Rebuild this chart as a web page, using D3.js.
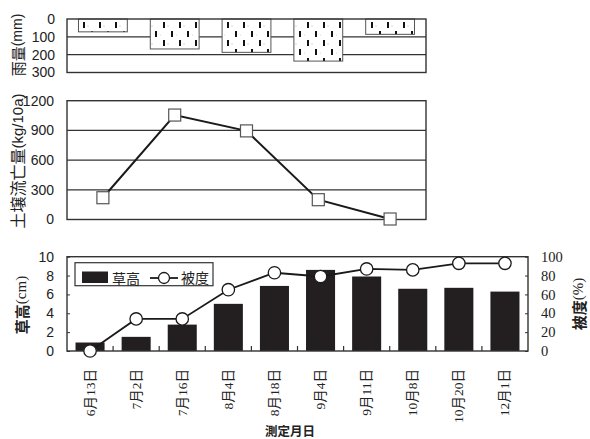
<!DOCTYPE html>
<html>
<head>
<meta charset="utf-8">
<script src="https://cdn.jsdelivr.net/npm/d3@7"></script>
<style>
  html, body { margin: 0; padding: 0; background: #fff; }
  svg { display: block; }
</style>
</head>
<body>
<svg id="chart" width="590" height="439"></svg>
<script>
// Rainfall and soil loss per measurement interval (5 intervals)
const intervals = ["1", "2", "3", "4", "5"];
const rainfall = [72, 168, 187, 236, 86];          // mm
const soilLoss = [220, 1055, 895, 200, 5];         // kg/10a

// Grass height and vegetation cover on each survey date
const dates = ["6月13日", "7月2日", "7月16日", "8月4日", "8月18日",
               "9月4日", "9月11日", "10月8日", "10月20日", "12月1日"];
const grassHeight = [0.9, 1.5, 2.8, 5.0, 6.9, 8.6, 7.9, 6.6, 6.7, 6.3];   // cm
const coverage = [0, 34, 34, 65, 83, 79, 87, 86, 93, 93];                // %

const rainTicks = [0, 100, 200, 300];
const lossTicks = [0, 300, 600, 900, 1200];
const heightTicks = [0, 2, 4, 6, 8, 10];
const coverTicks = [0, 20, 40, 60, 80, 100];

const svg = d3.select("#chart");
const ink = "#222";
const frame = "#333";
const sansNarrow = "'Liberation Sans Narrow', 'Liberation Sans', Arial, sans-serif";
const serif = "'Liberation Serif', 'DejaVu Serif', 'Noto Sans CJK JP', serif";
const cjk = "'Noto Sans CJK JP', sans-serif";
const plain = d3.format("d");

const left = 67, rightTop = 426, rightBottom = 528;

// Dash pattern used for the rainfall bars
const defs = svg.append("defs");
const pat = defs.append("pattern")
  .attr("id", "rainPattern")
  .attr("patternUnits", "userSpaceOnUse")
  .attr("width", 16).attr("height", 18)
  .attr("x", 0).attr("y", 21);
pat.append("rect").attr("width", 16).attr("height", 18).attr("fill", "#fff");
pat.append("rect").attr("x", 3).attr("y", 1).attr("width", 2).attr("height", 6).attr("fill", "#111");
pat.append("rect").attr("x", 11).attr("y", 10).attr("width", 2).attr("height", 6).attr("fill", "#111");
pat.append("circle").attr("cx", 8).attr("cy", 5).attr("r", 0.5).attr("fill", "#999");
pat.append("circle").attr("cx", 0).attr("cy", 14).attr("r", 0.5).attr("fill", "#999");

function yLabel(x, y, parts) {
  const t = svg.append("text")
    .attr("transform", `translate(${x},${y}) rotate(-90)`)
    .attr("text-anchor", "middle")
    .attr("dominant-baseline", "central")
    .attr("fill", ink);
  parts.forEach(p => {
    const s = t.append("tspan").attr("font-family", p.font).attr("font-size", p.size).text(p.text);
    if (p.weight) s.attr("font-weight", p.weight);
  });
}

// ---------- Panel 1: rainfall (inverted axis) ----------
const xTop = d3.scaleBand().domain(intervals).range([left, rightTop]).paddingInner(0.32).paddingOuter(0.16);
const yRain = d3.scaleLinear().domain([0, 300]).range([19, 72.5]);

const p1 = svg.append("g");
p1.selectAll("line.grid").data(rainTicks.slice(1, -1)).join("line")
  .attr("x1", left).attr("x2", rightTop)
  .attr("y1", d => yRain(d)).attr("y2", d => yRain(d))
  .attr("stroke", frame).attr("stroke-width", 1.2);
p1.selectAll("rect.bar").data(rainfall).join("rect")
  .attr("x", (d, i) => xTop(intervals[i]))
  .attr("y", yRain(0))
  .attr("width", xTop.bandwidth())
  .attr("height", d => yRain(d) - yRain(0))
  .attr("fill", "url(#rainPattern)")
  .attr("stroke", "#555").attr("stroke-width", 1);
p1.append("rect").attr("x", left).attr("y", yRain(0))
  .attr("width", rightTop - left).attr("height", yRain(300) - yRain(0))
  .attr("fill", "none").attr("stroke", frame).attr("stroke-width", 1.4);
p1.append("g").attr("transform", `translate(${left},0)`)
  .call(d3.axisLeft(yRain).tickValues(rainTicks).tickFormat(plain).tickSize(0).tickPadding(12))
  .call(g => g.select(".domain").remove())
  .call(g => g.selectAll("text").attr("font-family", sansNarrow).attr("font-size", 14).attr("fill", ink));
yLabel(17, 45, [{text: "雨量", font: cjk, size: 15}, {text: "(mm)", font: sansNarrow, size: 14}]);

// ---------- Panel 2: soil loss ----------
const yLoss = d3.scaleLinear().domain([0, 1200]).range([219.5, 100.7]);
const p2 = svg.append("g");
p2.selectAll("line.grid").data(lossTicks.slice(1, -1)).join("line")
  .attr("x1", left).attr("x2", rightTop)
  .attr("y1", d => yLoss(d)).attr("y2", d => yLoss(d))
  .attr("stroke", frame).attr("stroke-width", 1.2);
p2.append("rect").attr("x", left).attr("y", yLoss(1200))
  .attr("width", rightTop - left).attr("height", yLoss(0) - yLoss(1200))
  .attr("fill", "none").attr("stroke", frame).attr("stroke-width", 1.4);
const lossLine = d3.line()
  .x((d, i) => xTop(intervals[i]) + xTop.bandwidth() / 2)
  .y(d => yLoss(d));
p2.append("path").datum(soilLoss).attr("d", lossLine)
  .attr("fill", "none").attr("stroke", "#1a1a1a").attr("stroke-width", 2);
p2.selectAll("rect.mk").data(soilLoss).join("rect")
  .attr("x", (d, i) => xTop(intervals[i]) + xTop.bandwidth() / 2 - 6)
  .attr("y", d => yLoss(d) - 6)
  .attr("width", 12).attr("height", 12)
  .attr("fill", "#fff").attr("stroke", "#555").attr("stroke-width", 1.2);
p2.append("g").attr("transform", `translate(${left},0)`)
  .call(d3.axisLeft(yLoss).tickValues(lossTicks).tickFormat(plain).tickSize(0).tickPadding(13))
  .call(g => g.select(".domain").remove())
  .call(g => g.selectAll("text").attr("font-family", sansNarrow).attr("font-size", 14).attr("fill", ink));
yLabel(17, 161, [{text: "土壌流亡量", font: cjk, size: 16}, {text: "(kg/10a)", font: sansNarrow, size: 15}]);

// ---------- Panel 3: grass height bars + coverage line ----------
const xBot = d3.scaleBand().domain(dates).range([left, rightBottom]).paddingInner(0.37).paddingOuter(0.185);
const yH = d3.scaleLinear().domain([0, 10]).range([351, 256.7]);
const yC = d3.scaleLinear().domain([0, 100]).range([351, 256.7]);
const step = xBot.step();
const p3 = svg.append("g");

p3.selectAll("rect.bar").data(grassHeight).join("rect")
  .attr("x", (d, i) => xBot(dates[i]))
  .attr("y", d => yH(d))
  .attr("width", xBot.bandwidth())
  .attr("height", d => yH(0) - yH(d))
  .attr("fill", "#231f20");

// tick marks at category boundaries
p3.selectAll("line.tk").data(d3.range(1, dates.length)).join("line")
  .attr("x1", d => left + d * step).attr("x2", d => left + d * step)
  .attr("y1", yH(0)).attr("y2", yH(0) - 5)
  .attr("stroke", frame).attr("stroke-width", 1.2);

p3.append("rect").attr("x", left).attr("y", yH(10))
  .attr("width", rightBottom - left).attr("height", yH(0) - yH(10))
  .attr("fill", "none").attr("stroke", frame).attr("stroke-width", 1.4);

const covLine = d3.line()
  .x((d, i) => xBot(dates[i]) + xBot.bandwidth() / 2)
  .y(d => yC(d));
p3.append("path").datum(coverage).attr("d", covLine)
  .attr("fill", "none").attr("stroke", "#1a1a1a").attr("stroke-width", 1.8);
p3.selectAll("circle.mk").data(coverage).join("circle")
  .attr("cx", (d, i) => xBot(dates[i]) + xBot.bandwidth() / 2)
  .attr("cy", d => yC(d))
  .attr("r", 6.2)
  .attr("fill", "#fff").attr("stroke", "#1a1a1a").attr("stroke-width", 1.3);

// y axes with short inward ticks
p3.append("g").attr("transform", `translate(${left},0)`)
  .call(d3.axisRight(yH).tickValues(heightTicks).tickFormat("").tickSize(3))
  .call(g => g.select(".domain").remove())
  .call(g => g.selectAll("line").attr("stroke", frame));
p3.append("g").attr("transform", `translate(${rightBottom},0)`)
  .call(d3.axisLeft(yC).tickValues(coverTicks).tickFormat("").tickSize(3))
  .call(g => g.select(".domain").remove())
  .call(g => g.selectAll("line").attr("stroke", frame));

p3.append("g").attr("transform", `translate(${left},0)`)
  .call(d3.axisLeft(yH).tickValues(heightTicks).tickFormat(plain).tickSize(0).tickPadding(13))
  .call(g => g.select(".domain").remove())
  .call(g => g.selectAll("text").attr("font-family", sansNarrow).attr("font-size", 14).attr("fill", ink));
p3.append("g").attr("transform", `translate(${rightBottom},0)`)
  .call(d3.axisRight(yC).tickValues(coverTicks).tickFormat(plain).tickSize(0).tickPadding(13))
  .call(g => g.select(".domain").remove())
  .call(g => g.selectAll("text").attr("font-family", serif).attr("font-size", 14.5).attr("fill", ink));

yLabel(21, 305, [{text: "草高", font: cjk, size: 15, weight: "bold"}, {text: "(cm)", font: serif, size: 15}]);
yLabel(578, 304, [{text: "被度", font: cjk, size: 15, weight: "bold"}, {text: "(%)", font: serif, size: 15}]);

// x labels, rotated
p3.append("g").selectAll("text").data(dates).join("text")
  .attr("transform", d => `translate(${xBot(d) + xBot.bandwidth() / 2},369) rotate(-90)`)
  .attr("text-anchor", "end")
  .attr("dominant-baseline", "central")
  .attr("font-family", serif)
  .attr("font-size", 13.5)
  .attr("fill", ink)
  .text(d => d);

svg.append("text")
  .attr("x", 290).attr("y", 436)
  .attr("text-anchor", "middle")
  .attr("font-family", cjk).attr("font-weight", "bold")
  .attr("font-size", 12.5).attr("fill", ink)
  .text("測定月日");

// legend
const lg = svg.append("g");
lg.append("rect").attr("x", 75).attr("y", 262.7).attr("width", 138).attr("height", 23)
  .attr("fill", "#fff").attr("stroke", frame).attr("stroke-width", 1.2);
lg.append("rect").attr("x", 82).attr("y", 271.5).attr("width", 26).attr("height", 11.5).attr("fill", "#231f20");
lg.append("text").attr("x", 112).attr("y", 278).attr("dominant-baseline", "central")
  .attr("font-family", cjk).attr("font-size", 14).attr("fill", ink).text("草高");
lg.append("line").attr("x1", 150).attr("x2", 178).attr("y1", 278).attr("y2", 278)
  .attr("stroke", "#1a1a1a").attr("stroke-width", 1.8);
lg.append("circle").attr("cx", 164).attr("cy", 278).attr("r", 5.5)
  .attr("fill", "#fff").attr("stroke", "#1a1a1a").attr("stroke-width", 1.3);
lg.append("text").attr("x", 181).attr("y", 278).attr("dominant-baseline", "central")
  .attr("font-family", serif).attr("font-size", 14).attr("fill", ink).text("被度");
</script>
</body>
</html>
